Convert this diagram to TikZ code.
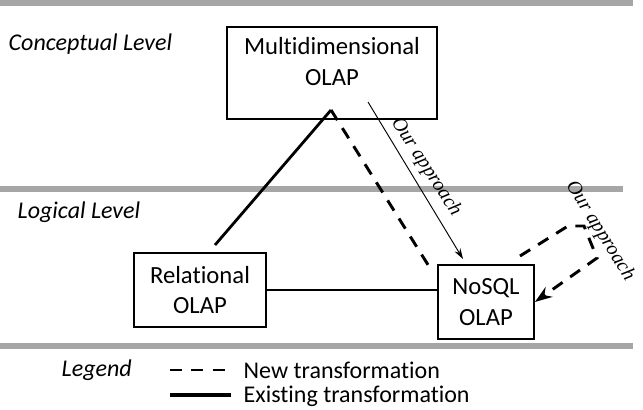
\documentclass[tikz,border=0pt]{standalone}
\usepackage{fontspec}
\setmainfont{Carlito}[Ligatures=NoCommon]
\newfontfamily\approachfont{Liberation Serif}
\usetikzlibrary{arrows.meta}
\begin{document}
\begin{tikzpicture}[x=0.75pt,y=-0.75pt,
  levelrule/.style={draw=black!35, line width=4.2pt},
  olapbox/.style={draw=black, line width=1.3pt, align=center, inner sep=0pt,
    font=\fontsize{18.5}{23}\selectfont},
  levellabel/.style={font=\fontsize{18}{22}\selectfont\itshape, anchor=west},
  existing/.style={draw=black, line width=2.1pt},
  newtrans/.style={draw=black, line width=2.2pt, dash pattern=on 9pt off 7pt},
  approach/.style={font=\fontsize{15}{18}\selectfont\approachfont\itshape},
  legendtext/.style={font=\fontsize{18}{22}\selectfont, anchor=west}]
\useasboundingbox (0,0) rectangle (643,410);

% level separators
\draw[levelrule] (0,3) -- (633,3);
\draw[levelrule] (0,189) -- (623,189);
\draw[levelrule] (0,346) -- (633,346);

% level names
\node[levellabel] (concept) at (4,44) {Conceptual Level};
\node[levellabel] (logical) at (13,212) {Logical Level};

% OLAP models
\node[olapbox, minimum width=157.5pt, minimum height=69pt] (multi) at (332,73)
  {Multidimensional\\OLAP\\[-6pt]};
\node[olapbox, minimum width=99pt, minimum height=55.5pt] (rel) at (200,290)
  {Relational\\OLAP};
\node[olapbox, minimum width=72pt, minimum height=56pt] (nosql) at (486,302)
  {NoSQL\\OLAP};

% connector end points
\coordinate (apex) at (331,110);
\coordinate (relend) at (215,245);
\coordinate (nosqlend) at (430,268);
\coordinate (arrstart) at (368,102);
\coordinate (arrend) at (463,259);
\coordinate (loopa) at (520,256);
\coordinate (loopb) at (568,226);
\coordinate (loopc) at (584,226);
\coordinate (loopd) at (597,258);

% existing transformations
\draw[existing] (relend) -- (apex);
\draw[existing] (rel.east) -- (nosql.west |- rel.east);

% new transformations
\draw[newtrans] (apex) -- (nosqlend);
\draw[newtrans, -{Stealth[length=13pt,width=9pt]}]
  (loopa) -- (loopb) -- (loopc) -- (loopd) -- (nosql.east);

% our approach
\draw[line width=0.7pt, -{Stealth[length=8pt,width=5pt]}] (arrstart) -- (arrend);
\node[approach, rotate=-57] (appr1) at (426,167) {Our approach};
\node[approach, rotate=-58] (appr2) at (600,231) {Our approach};

% legend
\node[levellabel] (legend) at (57,370) {Legend};
\coordinate (lga) at (170,370);
\coordinate (lgb) at (231,370);
\coordinate (lgc) at (170,395);
\coordinate (lgd) at (231,395);
\draw[draw=black, line width=1.8pt, dash pattern=on 9pt off 7pt] (lga) -- (lgb);
\draw[draw=black, line width=3pt] (lgc) -- (lgd);
\node[legendtext] (newlbl) at (239,370) {New transformation};
\node[legendtext] (oldlbl) at (239,396) {Existing transformation};
\end{tikzpicture}
\end{document}
